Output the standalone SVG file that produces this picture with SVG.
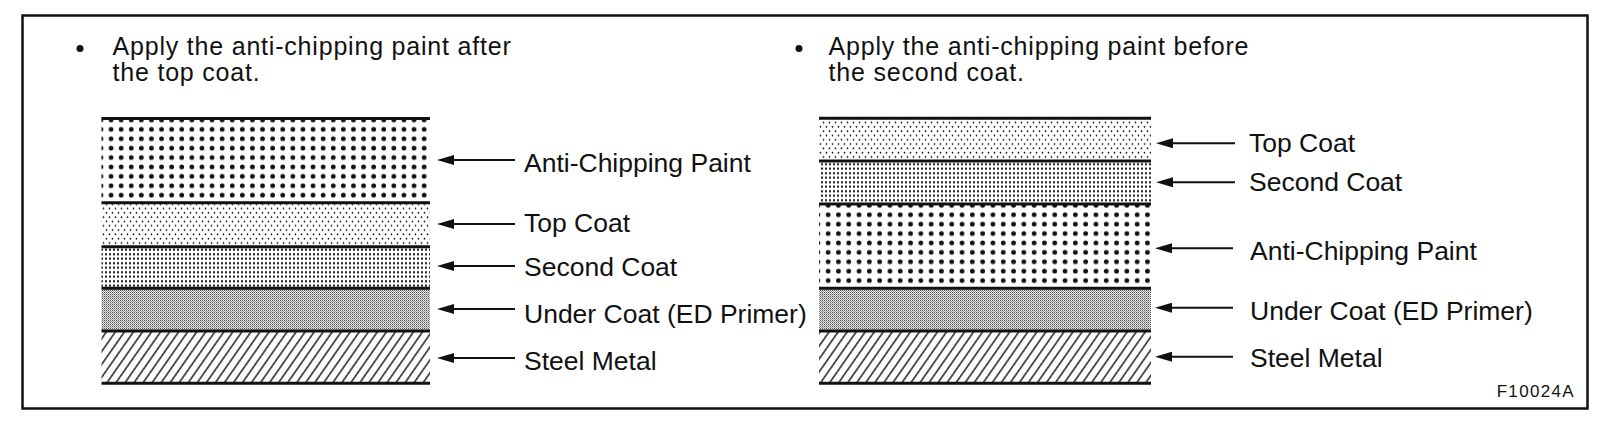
<svg xmlns="http://www.w3.org/2000/svg" width="1600" height="425" viewBox="0 0 1600 425">
<style>
text{font-family:"Liberation Sans",Arial,sans-serif;fill:#111}
.h{font-size:25px;letter-spacing:0.8px}
.lb{font-size:26.5px}
.fig{font-size:17px;letter-spacing:1.3px}
.bd{stroke:#111;stroke-width:3;fill:none}
.ar{stroke:#111;stroke-width:2;fill:none;marker-end:url(#ah)}
</style>
<defs>
<marker id="ah" viewBox="0 0 17 10" refX="11" refY="5" markerWidth="17" markerHeight="10" markerUnits="userSpaceOnUse" orient="auto"><path d="M0,0 L17,5 L0,10 Z" fill="#111"/></marker>
<pattern id="pAnti" patternUnits="userSpaceOnUse" x="106" y="124.6" width="10.1" height="9.4"><circle cx="5.05" cy="4.7" r="2.4" fill="#111"/></pattern>
<pattern id="pAntiR" patternUnits="userSpaceOnUse" x="823" y="210" width="10.3" height="9.4"><circle cx="5.15" cy="4.7" r="2.4" fill="#111"/></pattern>
<pattern id="pTop" patternUnits="userSpaceOnUse" width="6" height="8.6"><circle cx="1.5" cy="2.15" r="0.85" fill="#111"/><circle cx="4.5" cy="6.45" r="0.85" fill="#111"/></pattern>
<pattern id="pSec" patternUnits="userSpaceOnUse" width="4" height="4.5"><rect x="1" y="1.2" width="2" height="2" fill="#111"/></pattern>
<pattern id="pUnd" patternUnits="userSpaceOnUse" width="2" height="2"><rect x="0" y="0" width="2" height="2" fill="#e4e4e4"/><rect x="0" y="0" width="1" height="1" fill="#555"/><rect x="1" y="1" width="1" height="1" fill="#999"/></pattern>
<pattern id="pSteel" patternUnits="userSpaceOnUse" width="7.4" height="20" patternTransform="rotate(35)"><line x1="3.7" y1="0" x2="3.7" y2="20" stroke="#111" stroke-width="1.4"/></pattern>
</defs>
<rect x="22.5" y="15.5" width="1565" height="393" fill="#fff" stroke="#111" stroke-width="2.5"/>
<g id="header-left">
<circle cx="80" cy="48.5" r="3.5" fill="#111"/>
<text class="h" x="112.5" y="54.5">Apply the anti-chipping paint after</text>
<text class="h" x="112.5" y="80.5">the top coat.</text>
</g>
<g id="header-right">
<circle cx="799" cy="48.5" r="3.5" fill="#111"/>
<text class="h" x="828.5" y="54.5">Apply the anti-chipping paint before</text>
<text class="h" x="828.5" y="80.5">the second coat.</text>
</g>
<g id="stack-left">
<g id="L-anti"><rect x="101.5" y="118.5" width="328.5" height="84.2" fill="url(#pAnti)"/></g>
<g id="L-top"><rect x="101.5" y="202.7" width="328.5" height="44" fill="url(#pTop)"/></g>
<g id="L-second"><rect x="101.5" y="246.7" width="328.5" height="41.6" fill="url(#pSec)"/></g>
<g id="L-under"><rect x="101.5" y="288.3" width="328.5" height="42.7" fill="url(#pUnd)"/></g>
<g id="L-steel"><rect x="101.5" y="331" width="328.5" height="52.3" fill="url(#pSteel)"/></g>
<path class="bd" d="M101.5,118.5H430M101.5,202.7H430M101.5,246.7H430M101.5,288.3H430M101.5,331H430M101.5,383.3H430"/>
</g>
<g id="stack-right">
<g id="R-top"><rect x="819" y="118.3" width="332" height="42.7" fill="url(#pTop)"/></g>
<g id="R-second"><rect x="819" y="161" width="332" height="43" fill="url(#pSec)"/></g>
<g id="R-anti"><rect x="819" y="204" width="332" height="84.3" fill="url(#pAntiR)"/></g>
<g id="R-under"><rect x="819" y="288.3" width="332" height="42.7" fill="url(#pUnd)"/></g>
<g id="R-steel"><rect x="819" y="331" width="332" height="52.3" fill="url(#pSteel)"/></g>
<path class="bd" d="M819,118.3H1151M819,161H1151M819,204H1151M819,288.3H1151M819,331H1151M819,383.3H1151"/>
</g>
<g id="connectors">
<line class="ar" x1="515" y1="160" x2="443" y2="160"/>
<line class="ar" x1="515" y1="224" x2="443" y2="224"/>
<line class="ar" x1="515" y1="266" x2="443" y2="266"/>
<line class="ar" x1="515" y1="309" x2="443" y2="309"/>
<line class="ar" x1="515" y1="358" x2="443" y2="358"/>
<line class="ar" x1="1235" y1="143.3" x2="1162" y2="143.3"/>
<line class="ar" x1="1235" y1="182.3" x2="1162" y2="182.3"/>
<line class="ar" x1="1233" y1="248.3" x2="1161" y2="248.3"/>
<line class="ar" x1="1233" y1="307.7" x2="1161" y2="307.7"/>
<line class="ar" x1="1233" y1="356.7" x2="1161" y2="356.7"/>
</g>
<g id="labels-left">
<text class="lb" x="524" y="172.3">Anti-Chipping Paint</text>
<text class="lb" x="524" y="232.3">Top Coat</text>
<text class="lb" x="524" y="276">Second Coat</text>
<text class="lb" x="524" y="323.3">Under Coat (ED Primer)</text>
<text class="lb" x="524" y="370">Steel Metal</text>
</g>
<g id="labels-right">
<text class="lb" x="1249" y="152.3">Top Coat</text>
<text class="lb" x="1249" y="191.3">Second Coat</text>
<text class="lb" x="1250" y="260">Anti-Chipping Paint</text>
<text class="lb" x="1250" y="320">Under Coat (ED Primer)</text>
<text class="lb" x="1250" y="366.7">Steel Metal</text>
</g>
<text class="fig" x="1496.7" y="396.7">F10024A</text>
</svg>
